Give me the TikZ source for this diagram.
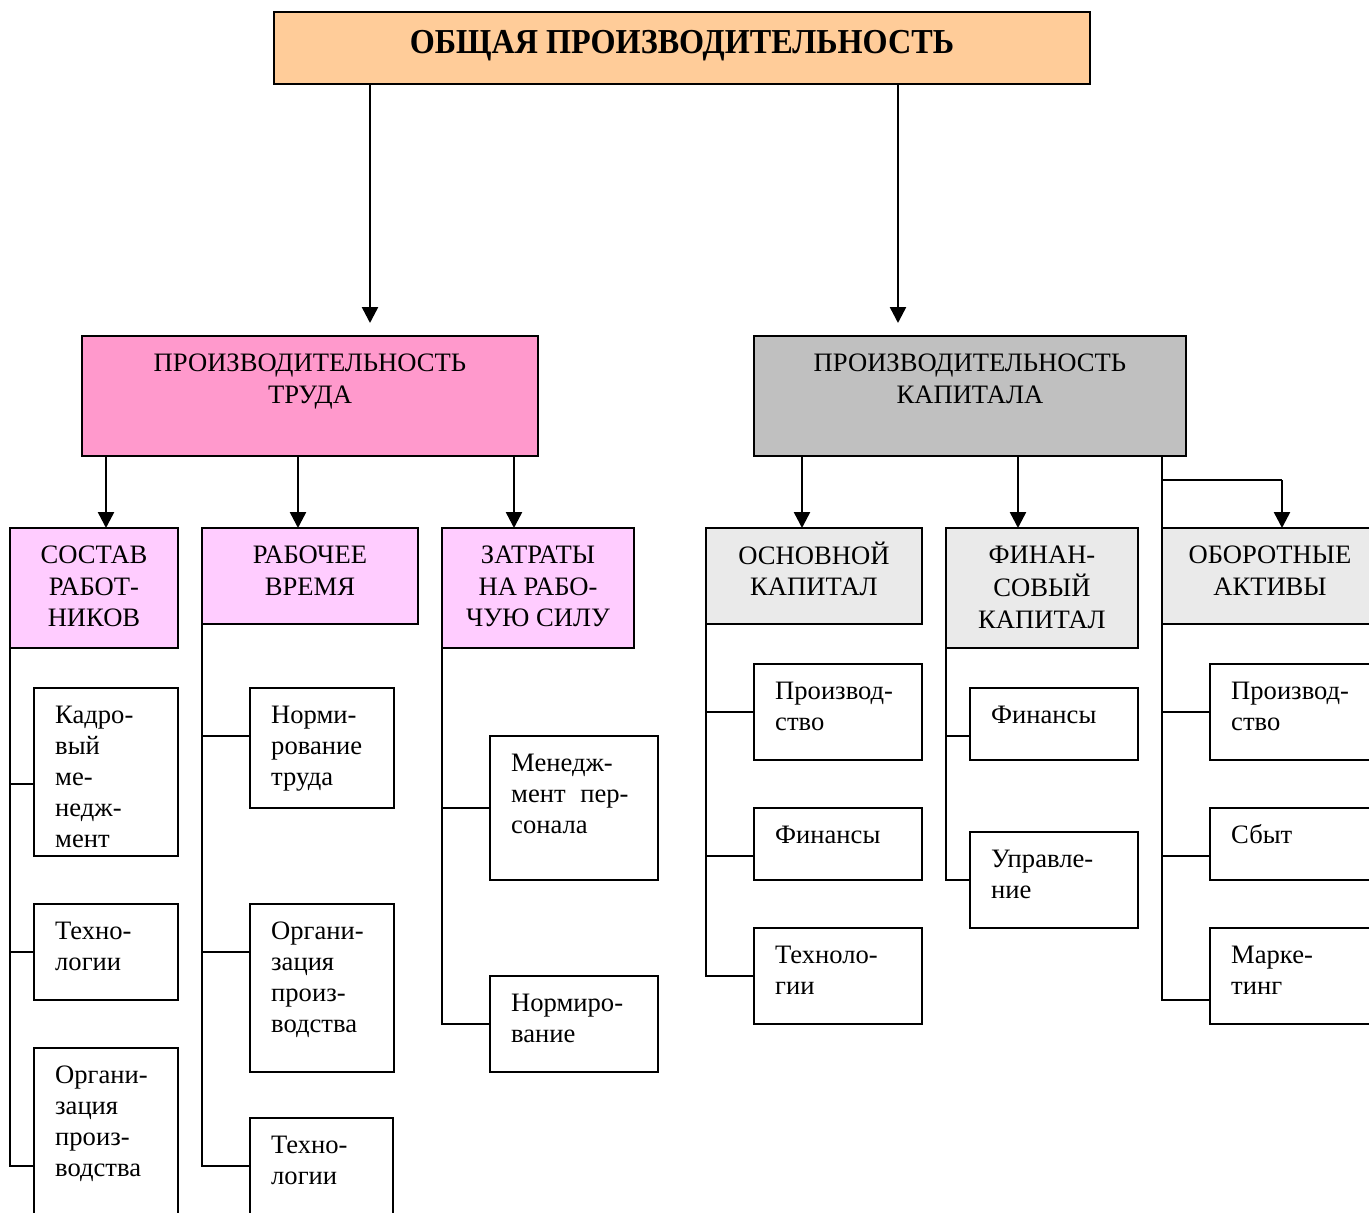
\documentclass[tikz,border=0pt]{standalone}
\usepackage{fontspec}
\setmainfont{Liberation Serif}
\newfontfamily\titlefont[FakeStretch=0.92]{Liberation Serif}
\usetikzlibrary{arrows.meta}
\definecolor{peach}{HTML}{FFCC99}
\definecolor{rose}{HTML}{FF99CC}
\definecolor{lpink}{HTML}{FFCCFF}
\definecolor{mgray}{HTML}{C0C0C0}
\definecolor{lgray}{HTML}{EAEAEA}
\tikzset{
  bx/.style={draw=black, line width=2pt, inner sep=0pt, outer sep=0pt, anchor=north west},
  ctext/.style={anchor=north west, align=left, inner xsep=21pt, inner ysep=14pt, font=\fontsize{26.6}{31}\selectfont},
  htext/.style={anchor=north, align=center, inner xsep=0pt, inner ysep=13.5pt, font=\fontsize{26.6}{31.5}\selectfont},
  conn/.style={line width=2pt},
  arr/.style={line width=2.5pt, -{Triangle[length=16pt,width=16pt]}},
}
\newcommand\kbox[6]{%
  \node[bx, minimum width=#4pt, minimum height=#5pt] (#1) at (#2,#3) {};
  \node[ctext] (#1t) at (#1.north west) {\strut #6};}
\newcommand\headbox[7]{%
  \node[bx, fill=#6, minimum width=#4pt, minimum height=#5pt] (#1) at (#2,#3) {};
  \node[htext] (#1t) at (#1.north) {\strut #7};}
\begin{document}
\begin{tikzpicture}[x=1pt,y=-1pt]
\fill[white] (0,0) rectangle (1369,1213);
\useasboundingbox (0,0) rectangle (1369,1213);

% top
\node[bx, fill=peach, minimum width=816pt, minimum height=72pt] (t) at (274,12) {};
\node[anchor=base, inner sep=0pt, font=\titlefont\fontsize{35}{38}\selectfont\bfseries] (tt) at (682,53) {ОБЩАЯ ПРОИЗВОДИТЕЛЬНОСТЬ};

% level 2
\headbox{m1}{82}{336}{456}{120}{rose}{ПРОИЗВОДИТЕЛЬНОСТЬ\\ТРУДА}
\headbox{m2}{754}{336}{432}{120}{mgray}{ПРОИЗВОДИТЕЛЬНОСТЬ\\КАПИТАЛА}

% level 3
\headbox{s1}{10}{528}{168}{120}{lpink}{СОСТАВ\\РАБОТ-\\НИКОВ}
\headbox{s2}{202}{528}{216}{96}{lpink}{РАБОЧЕЕ\\ВРЕМЯ}
\headbox{s3}{442}{528}{192}{120}{lpink}{ЗАТРАТЫ\\НА РАБО-\\ЧУЮ СИЛУ}
\headbox{r1}{706}{528}{216}{96}{lgray}{ОСНОВНОЙ\\КАПИТАЛ}
\headbox{r2}{946}{528}{192}{120}{lgray}{ФИНАН-\\СОВЫЙ\\КАПИТАЛ}
\headbox{r3}{1162}{528}{216}{96}{lgray}{ОБОРОТНЫЕ\\АКТИВЫ}

% children
\kbox{a1}{34}{688}{144}{168}{Кадро-\\вый\\ме-\\недж-\\мент}
\kbox{a2}{34}{904}{144}{96}{Техно-\\логии}
\kbox{a3}{34}{1048}{144}{180}{Органи-\\зация\\произ-\\водства}
\kbox{b1}{250}{688}{144}{120}{Норми-\\рование\\труда}
\kbox{b2}{250}{904}{144}{168}{Органи-\\зация\\произ-\\водства}
\kbox{b3}{250}{1118}{143}{110}{Техно-\\логии}
\kbox{c1}{490}{736}{168}{144}{Менедж-\\мент\hspace{0.55em}пер-\\сонала}
\kbox{c2}{490}{976}{168}{96}{Нормиро-\\вание}
\kbox{d1}{754}{664}{168}{96}{Производ-\\ство}
\kbox{d2}{754}{808}{168}{72}{Финансы}
\kbox{d3}{754}{928}{168}{96}{Техноло-\\гии}
\kbox{e1}{970}{688}{168}{72}{Финансы}
\kbox{e2}{970}{832}{168}{96}{Управле-\\ние}
\kbox{f1}{1210}{664}{168}{96}{Производ-\\ство}
\kbox{f2}{1210}{808}{168}{72}{Сбыт}
\kbox{f3}{1210}{928}{168}{96}{Марке-\\тинг}

% arrows top
\draw[arr, shorten >=13pt] ([xshift=96pt]t.south west) -- ([xshift=96pt]t.south west |- m1.north);
\draw[arr, shorten >=13pt] ([xshift=-192pt]t.south east) -- ([xshift=-192pt]t.south east |- m2.north);

% arrows level 3
\draw[arr] ([xshift=24pt]m1.south west) -- ([xshift=24pt]m1.south west |- s1.north);
\draw[arr] ([xshift=216pt]m1.south west) -- ([xshift=216pt]m1.south west |- s2.north);
\draw[arr] ([xshift=-24pt]m1.south east) -- ([xshift=-24pt]m1.south east |- s3.north);
\draw[arr] ([xshift=48pt]m2.south west) -- ([xshift=48pt]m2.south west |- r1.north);
\draw[arr] ([xshift=264pt]m2.south west) -- ([xshift=264pt]m2.south west |- r2.north);
\coordinate (r3in) at ([xshift=120pt]r3.north west);
\draw[conn] ([xshift=-24pt]m2.south east) -- ++(0,24) coordinate (bend) -- (bend -| r3in);
\draw[arr] (bend -| r3in) -- (r3in);

% spines and branches
\draw[conn] (s1.south west) |- ([yshift=-96pt]a1.north west);
\draw[conn] (s1.south west) |- ([yshift=-48pt]a2.north west);
\draw[conn] (s1.south west) |- ([yshift=-118pt]a3.north west);
\draw[conn] (s2.south west) |- ([yshift=-48pt]b1.north west);
\draw[conn] (s2.south west) |- ([yshift=-48pt]b2.north west);
\draw[conn] (s2.south west) |- ([yshift=-48pt]b3.north west);
\draw[conn] (s3.south west) |- ([yshift=-72pt]c1.north west);
\draw[conn] (s3.south west) |- ([yshift=-48pt]c2.north west);
\draw[conn] (r1.south west) |- ([yshift=-48pt]d1.north west);
\draw[conn] (r1.south west) |- ([yshift=-48pt]d2.north west);
\draw[conn] (r1.south west) |- ([yshift=-48pt]d3.north west);
\draw[conn] (r2.south west) |- ([yshift=-48pt]e1.north west);
\draw[conn] (r2.south west) |- ([yshift=-48pt]e2.north west);
\draw[conn] ([xshift=-24pt]m2.south east) |- ([yshift=-48pt]f1.north west);
\draw[conn] ([xshift=-24pt]m2.south east) |- ([yshift=-48pt]f2.north west);
\draw[conn] ([xshift=-24pt]m2.south east) |- ([yshift=-72pt]f3.north west);
\end{tikzpicture}
\end{document}
